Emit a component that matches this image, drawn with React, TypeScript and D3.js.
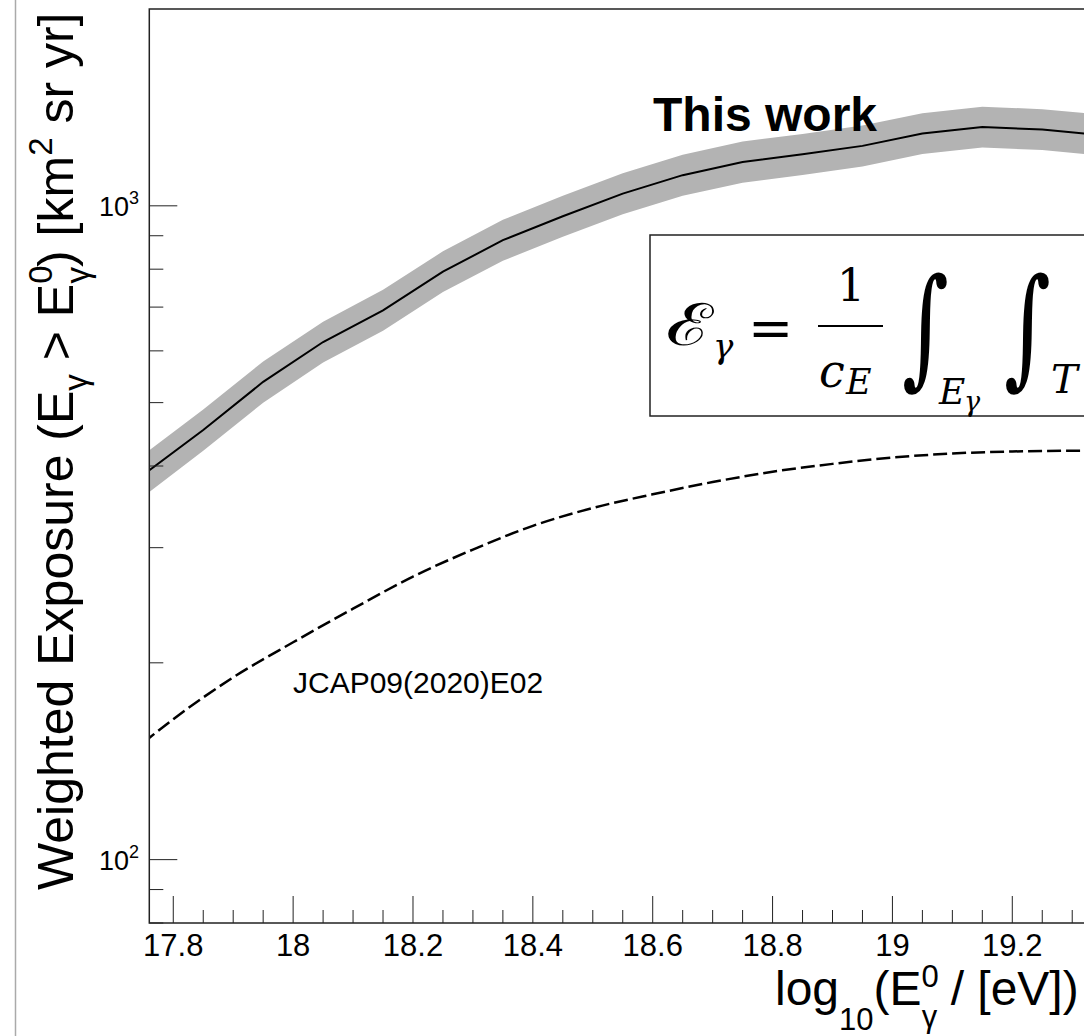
import React, { useEffect, useRef } from 'react';
import * as d3 from 'd3';

// this work: weighted exposure vs log10(E0), with its grey uncertainty band
const energy = [17.75, 17.85, 17.95, 18.05, 18.15, 18.25, 18.35, 18.45, 18.55, 18.65, 18.75, 18.85, 18.95, 19.05, 19.15, 19.25, 19.35];
const exposure = [388, 454, 538, 619, 692, 793, 886, 964, 1044, 1114, 1167, 1199, 1235, 1290, 1320, 1308, 1282];
const exposureHigh = [416, 488, 578, 665, 744, 852, 952, 1036, 1122, 1197, 1254, 1288, 1327, 1386, 1418, 1405, 1378];
const exposureLow = [359, 422, 500, 576, 644, 738, 824, 897, 971, 1036, 1085, 1115, 1149, 1200, 1228, 1217, 1193];

// JCAP09(2020)E02 curve (dashed)
const jcapEnergy = [17.75, 17.8, 17.9, 18.0, 18.1, 18.2, 18.3, 18.4, 18.5, 18.6, 18.7, 18.8, 18.9, 19.0, 19.1, 19.2, 19.3, 19.4];
const jcapExposure = [151, 164, 190, 215, 242, 271, 298, 324, 345, 362, 378, 392, 403, 412, 418, 421, 422, 422];

const xMajorTicks = [17.8, 18, 18.2, 18.4, 18.6, 18.8, 19, 19.2];
const xTickLabels = ['17.8', '18', '18.2', '18.4', '18.6', '18.8', '19', '19.2'];
const yMajorTicks = [100, 1000];
const yTickExp = ['2', '3'];
const yMinorTicks = [80, 90, 200, 300, 400, 500, 600, 700, 800, 900];

const font = '"Liberation Sans", Arial, Helvetica, sans-serif';
const mathFont = '"DejaVu Serif", "Liberation Serif", serif';

const App = () => {
  const ref = useRef<SVGSVGElement>(null);

  useEffect(() => {
    const svg = d3.select(ref.current);
    svg.selectAll('*').remove();

    const left = 149.3, top = 9, bottom = 923;
    const x = d3.scaleLinear().domain([17.76, 19.4]).range([left, left + 1.64 * 599.3]);
    const y = d3.scaleLog().domain([80, 2000]).range([bottom, top]);
    const right = x(19.4);

    svg.append('rect').attr('width', 1084).attr('height', 1036).attr('fill', '#fff');
    // thin page border on the left
    svg.append('line').attr('x1', 15.5).attr('x2', 15.5).attr('y1', 0).attr('y2', 1036)
      .attr('stroke', '#aaa').attr('stroke-width', 1.5);

    svg.append('clipPath').attr('id', 'plotclip')
      .append('rect').attr('x', left).attr('y', top).attr('width', right - left).attr('height', bottom - top);

    const plot = svg.append('g').attr('clip-path', 'url(#plotclip)');

    const idx = d3.range(energy.length);
    const band = d3.area<number>()
      .x(i => x(energy[i]))
      .y0(i => y(exposureLow[i]))
      .y1(i => y(exposureHigh[i]));
    plot.append('path').datum(idx).attr('d', band).attr('fill', '#b3b3b3');

    const line = d3.line<number>().x(i => x(energy[i])).y(i => y(exposure[i]));
    plot.append('path').datum(idx).attr('d', line)
      .attr('fill', 'none').attr('stroke', '#000').attr('stroke-width', 2);

    const jIdx = d3.range(jcapEnergy.length);
    const jline = d3.line<number>().x(i => x(jcapEnergy[i])).y(i => y(jcapExposure[i])).curve(d3.curveMonotoneX);
    plot.append('path').datum(jIdx).attr('d', jline)
      .attr('fill', 'none').attr('stroke', '#000').attr('stroke-width', 2.5)
      .attr('stroke-dasharray', '14,5');

    // frame
    svg.append('rect').attr('x', left).attr('y', top).attr('width', right - left).attr('height', bottom - top)
      .attr('fill', 'none').attr('stroke', '#222').attr('stroke-width', 1.5);

    // x ticks
    const xMinor = d3.range(0, 33).map(k => 17.8 + k * 0.05).filter(v => Math.abs((v - 17.8) / 0.2 - Math.round((v - 17.8) / 0.2)) > 0.01);
    xMinor.forEach(v => {
      svg.append('line').attr('x1', x(v)).attr('x2', x(v)).attr('y1', bottom).attr('y2', bottom - 13)
        .attr('stroke', '#222').attr('stroke-width', 1);
    });
    xMajorTicks.forEach((v, i) => {
      svg.append('line').attr('x1', x(v)).attr('x2', x(v)).attr('y1', bottom).attr('y2', bottom - 27)
        .attr('stroke', '#222').attr('stroke-width', 1);
      svg.append('text').attr('x', x(v)).attr('y', 956).attr('text-anchor', 'middle')
        .attr('font-family', font).attr('font-size', 31).attr('fill', '#000').text(xTickLabels[i]);
    });

    // y ticks
    yMinorTicks.forEach(v => {
      svg.append('line').attr('x1', left).attr('x2', left + 14).attr('y1', y(v)).attr('y2', y(v))
        .attr('stroke', '#222').attr('stroke-width', 1);
    });
    yMajorTicks.forEach((v, i) => {
      svg.append('line').attr('x1', left).attr('x2', left + 28).attr('y1', y(v)).attr('y2', y(v))
        .attr('stroke', '#222').attr('stroke-width', 1);
      const t = svg.append('text').attr('x', 99).attr('y', y(v) + 10)
        .attr('font-family', font).attr('font-size', 27).attr('fill', '#000');
      t.append('tspan').text('10');
      t.append('tspan').attr('font-size', 18).attr('dy', -12).text(yTickExp[i]);
    });

    // y title
    const yt = svg.append('text').attr('transform', 'translate(73,890) rotate(-90)')
      .attr('font-family', font).attr('font-size', 50).attr('fill', '#000');
    yt.append('tspan').text('Weighted Exposure (E');
    yt.append('tspan').attr('font-size', 33).attr('dy', 14).text('γ');
    yt.append('tspan').attr('dy', -14).text(' > E');
    yt.append('tspan').attr('font-size', 33).attr('dy', -21).text('0');
    yt.append('tspan').attr('font-size', 33).attr('dx', -18).attr('dy', 37).text('γ');
    yt.append('tspan').attr('dy', -16).text(') [km');
    yt.append('tspan').attr('font-size', 33).attr('dy', -21).text('2');
    yt.append('tspan').attr('dy', 21).text(' sr yr]');

    // x title
    const xt = svg.append('text').attr('x', 775).attr('y', 1005)
      .attr('font-family', font).attr('font-size', 48).attr('fill', '#000');
    xt.append('tspan').text('log');
    xt.append('tspan').attr('font-size', 31).attr('dy', 25).text('10');
    xt.append('tspan').attr('dy', -25).text('(E');
    xt.append('tspan').attr('font-size', 31).attr('dy', -18).text('0');
    xt.append('tspan').attr('font-size', 31).attr('dx', -17).attr('dy', 40).text('γ');
    xt.append('tspan').attr('dy', -22).text(' / [eV])');

    // annotations
    svg.append('text').attr('x', 653).attr('y', 131).attr('font-family', font)
      .attr('font-size', 48).attr('font-weight', 'bold').attr('fill', '#000').text('This work');
    svg.append('text').attr('x', 293).attr('y', 693).attr('font-family', font)
      .attr('font-size', 30).attr('fill', '#000').text('JCAP09(2020)E02');

    // formula box
    svg.append('rect').attr('x', 650).attr('y', 235).attr('width', 500).attr('height', 181)
      .attr('fill', '#fff').attr('stroke', '#222').attr('stroke-width', 1.5);
    const f = svg.append('g').attr('font-family', mathFont).attr('fill', '#000');
    f.append('text').attr('transform', 'translate(666,345) scale(1.35,1)').attr('font-size', 58).text('ℰ');
    f.append('text').attr('x', 713).attr('y', 358).attr('font-size', 34).attr('font-style', 'italic').text('γ');
    f.append('text').attr('x', 748).attr('y', 347).attr('font-size', 54).text('=');
    f.append('text').attr('x', 851).attr('y', 301).attr('font-size', 44).attr('text-anchor', 'middle').text('1');
    f.append('line').attr('x1', 818).attr('x2', 883).attr('y1', 326).attr('y2', 326)
      .attr('stroke', '#000').attr('stroke-width', 2);
    f.append('text').attr('x', 819).attr('y', 387).attr('font-size', 46).attr('font-style', 'italic').text('c');
    f.append('text').attr('x', 846).attr('y', 394).attr('font-size', 35).attr('font-style', 'italic').text('E');
    f.append('text').attr('transform', 'translate(902,371) scale(0.9,1.3)').attr('font-size', 100).text('∫');
    f.append('text').attr('x', 939).attr('y', 404).attr('font-size', 36).attr('font-style', 'italic').text('E');
    f.append('text').attr('x', 964).attr('y', 411).attr('font-size', 27).attr('font-style', 'italic').text('γ');
    f.append('text').attr('transform', 'translate(1004,371) scale(0.9,1.3)').attr('font-size', 100).text('∫');
    f.append('text').attr('x', 1051).attr('y', 393).attr('font-size', 40).attr('font-style', 'italic').text('T');
  }, []);

  return (
    <svg ref={ref} width={1084} height={1036}
      style={{ position: 'absolute', left: 0, top: 0, background: '#fff' }} />
  );
};

export default App;
